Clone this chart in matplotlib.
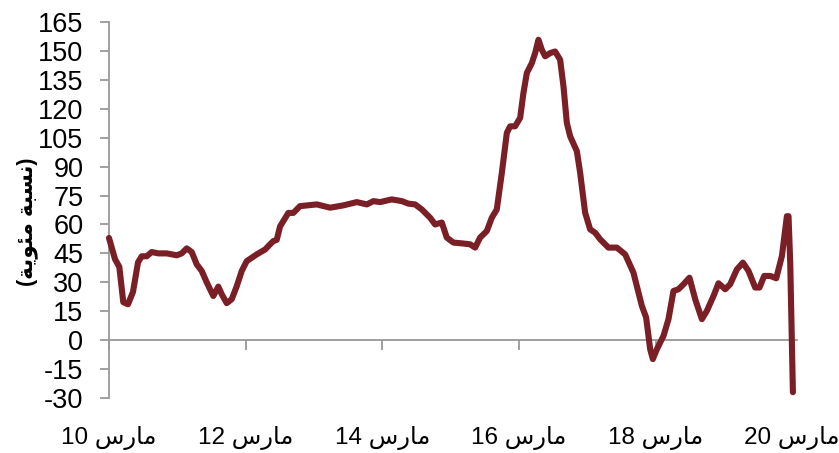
import matplotlib
matplotlib.use('Agg')
import matplotlib.pyplot as plt

# years since March 2010
years = [0.0, 0.088, 0.151, 0.209, 0.278, 0.351, 0.425, 0.479, 0.552, 0.625,
         0.722, 0.845, 0.991, 1.064, 1.138, 1.211, 1.284, 1.357, 1.430, 1.527,
         1.600, 1.650, 1.723, 1.796, 1.870, 1.943, 2.016, 2.163, 2.284, 2.357,
         2.406, 2.455, 2.504, 2.625, 2.698, 2.796, 3.041, 3.236, 3.430, 3.627,
         3.773, 3.870, 3.968, 4.139, 4.286, 4.382, 4.480, 4.578, 4.700, 4.773,
         4.871, 4.944, 5.041, 5.164, 5.286, 5.359, 5.432, 5.530, 5.603, 5.676,
         5.750, 5.823, 5.871, 5.944, 6.018, 6.066, 6.116, 6.189, 6.237, 6.286,
         6.335, 6.384, 6.457, 6.530, 6.603, 6.652, 6.701, 6.750, 6.848, 6.896,
         6.969, 7.042, 7.116, 7.189, 7.310, 7.433, 7.555, 7.676, 7.799, 7.862,
         7.921, 7.960, 8.019, 8.116, 8.189, 8.262, 8.335, 8.409, 8.496, 8.580,
         8.678, 8.751, 8.848, 8.921, 9.019, 9.092, 9.190, 9.278, 9.360, 9.458,
         9.521, 9.590, 9.678, 9.766, 9.849, 9.922, 9.946, 9.971, 10.010]

values = [53, 42, 38, 19.7, 18.6, 25, 40.4, 43.5, 43.5, 45.7,
          45, 45, 44, 45, 47.6, 45.7, 39.3, 35.9, 30, 22.9,
          27.8, 23.8, 19.2, 21.2, 28, 35.9, 41, 44.5, 47, 49.7,
          51.4, 52, 59, 66, 66, 69.5, 70.4, 68.7, 69.9, 71.6,
          70.4, 72.1, 71.6, 73, 72.1, 70.8, 70.4, 67.8, 63.5, 60,
          61, 53.2, 50.6, 50.2, 49.7, 48, 53.2, 56.6, 63.5, 67.8,
          86.8, 107.5, 110.9, 110.9, 115.3, 128.2, 138.6, 143.7, 148.9, 155.8,
          150.6, 147.2, 148.9, 149.7, 145.4, 131.6, 112.7, 105.7, 98, 86.8,
          66.1, 57.5, 55.7, 52.3, 48, 48, 44.5, 35, 17.8, 11.7,
          -4.7, -9.8, -4.7, 2.2, 10.9, 25.5, 26.4, 29, 32.4, 21.2,
          10.9, 15.2, 22.9, 29.5, 26.4, 29, 36.7, 40.2, 35.9, 27.3,
          27.3, 33.3, 33.3, 32.1, 43.6, 64.3, 64.3, 40, -27]

tick_years = [0, 2, 4, 6, 8, 10]
tick_nums = ['10', '12', '14', '16', '18', '20']
y_ticks = list(range(-30, 166, 15))

# "مارس" and "(نسبة مئوية)" pre-shaped in visual order (no bidi in matplotlib)
march = '\uFEB1\uFEAD\uFE8E\uFEE3'
ylabel_txt = '(' + '\uFE94\uFEF3\uFEEE\uFE8C\uFEE3' + ' ' + '\uFE94\uFE92\uFEB4\uFEE7' + ')'
tick_labels = [n + ' ' + march for n in tick_nums]

fonts = ['Liberation Sans', 'DejaVu Sans']
plt.rcParams['font.family'] = fonts

fig = plt.figure(figsize=(8.39, 4.53), dpi=100)
ax = fig.add_axes([109 / 839, 1 - 398 / 453, 688 / 839, 376 / 453])

ax.plot(years, values, color='#7B1F27', linewidth=4.4, solid_joinstyle='round',
        solid_capstyle='round', clip_on=False, zorder=3)

ax.set_xlim(0, 10.07)
ax.set_ylim(-30, 165)

ax.spines['top'].set_visible(False)
ax.spines['right'].set_visible(False)
ax.spines['bottom'].set_position(('data', 0))
for s in ['left', 'bottom']:
    ax.spines[s].set_color('#999999')
    ax.spines[s].set_linewidth(1.3)

ax.set_yticks(y_ticks)
ax.set_yticklabels([str(v) for v in y_ticks])
ax.set_xticks(tick_years)
ax.set_xticklabels(tick_labels)

ax.tick_params(axis='y', direction='out', length=6.5, width=1.3, color='#999999',
               labelsize=19.5, pad=12)
ax.tick_params(axis='x', direction='out', length=7, width=1.3, color='#999999',
               labelsize=17.5, pad=55)

ax.set_ylabel(ylabel_txt, fontsize=15.5, fontweight='bold')
ax.yaxis.set_label_coords(-0.103, 0.468)

fig.savefig('out.png', dpi=100)
